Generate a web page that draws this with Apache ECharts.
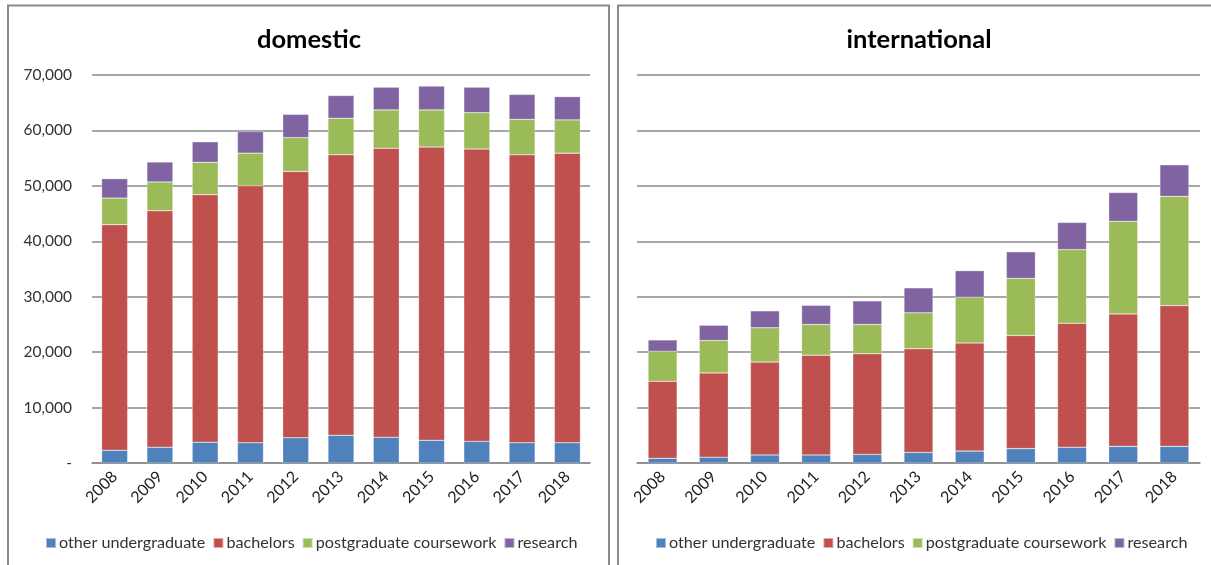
<!DOCTYPE html>
<html>
<head>
<meta charset="utf-8">
<script src="https://cdn.jsdelivr.net/npm/echarts@6/dist/echarts.min.js"></script>
<style>
  html, body { margin: 0; padding: 0; background: #fff; }
  #chart { width: 1211px; height: 565px; }
</style>
</head>
<body>
<div id="chart"></div>
<script>
// data
const years = ['2008', '2009', '2010', '2011', '2012', '2013', '2014', '2015', '2016', '2017', '2018'];
const seriesNames = ['other undergraduate', 'bachelors', 'postgraduate coursework', 'research'];

const domOther = [2300, 2850, 3750, 3650, 4550, 5000, 4650, 4100, 3900, 3650, 3650];
const domBachelors = [40700, 42650, 44650, 46350, 48050, 50600, 52150, 52900, 52750, 51950, 52250];
const domPostgrad = [4800, 5200, 5850, 5900, 6100, 6600, 6900, 6700, 6550, 6400, 6000];
const domResearch = [3500, 3600, 3700, 3900, 4200, 4100, 4100, 4300, 4600, 4500, 4200];

const intOther = [850, 1050, 1450, 1450, 1550, 1900, 2150, 2600, 2850, 3000, 3000];
const intBachelors = [13900, 15200, 16750, 18000, 18150, 18700, 19500, 20400, 22350, 23900, 25400];
const intPostgrad = [5400, 5850, 6200, 5550, 5300, 6500, 8250, 10300, 13300, 16700, 19700];
const intResearch = [2050, 2750, 3050, 3450, 4250, 4500, 4800, 4800, 4900, 5200, 5700];

const colors = ['#4F81BD', '#C0504D', '#9BBB59', '#8064A2'];
const font = 'Lato, "Open Sans", sans-serif';
const gridColor = '#8a8a8a';

const chart = echarts.init(document.getElementById('chart'));

function xAxis(idx) {
  return {
    type: 'category',
    gridIndex: idx,
    data: years,
    axisLine: { lineStyle: { color: gridColor, width: 1.5 } },
    axisTick: { show: false },
    axisLabel: { rotate: 45, color: '#222', fontSize: 16, fontFamily: font, margin: 11 }
  };
}

function yAxis(idx, showLabels) {
  return {
    type: 'value',
    gridIndex: idx,
    min: 0,
    max: 70000,
    interval: 10000,
    axisLine: { show: false },
    axisTick: { show: false },
    splitLine: { lineStyle: { color: gridColor, width: 1.5 } },
    axisLabel: {
      show: showLabels,
      color: '#333',
      fontSize: 15.5,
      fontFamily: font,
      margin: 20,
      formatter: v => v === 0 ? '-' : v.toLocaleString('en-US')
    }
  };
}

function bars(idx, data, width) {
  return data.map((d, i) => ({
    name: seriesNames[i],
    type: 'bar',
    stack: 's' + idx,
    xAxisIndex: idx,
    yAxisIndex: idx,
    barWidth: width,
    data: d,
    itemStyle: { color: colors[i], borderColor: 'rgba(255,255,255,0.5)', borderWidth: 0.5 },
    animation: false
  }));
}

const legendCommon = {
  data: seriesNames,
  top: 535,
  padding: 0,
  itemWidth: 10,
  itemHeight: 10,
  itemGap: 7,
  icon: 'rect',
  textStyle: { fontSize: 16.2, color: '#333', fontFamily: font, padding: [0, 0, 0, -2] }
};

const option = {
  color: colors,
  title: [
    { text: 'domestic', left: 304, top: 22, textAlign: 'center',
      textStyle: { fontSize: 25.5, fontWeight: 'bold', color: '#000', fontFamily: font } },
    { text: 'international', left: 914, top: 22, textAlign: 'center',
      textStyle: { fontSize: 25.5, fontWeight: 'bold', color: '#000', fontFamily: font } }
  ],
  legend: [
    Object.assign({ left: 45 }, legendCommon),
    Object.assign({ left: 655 }, legendCommon)
  ],
  grid: [
    { left: 92, width: 498, top: 75, height: 388 },
    { left: 637, width: 563, top: 75, height: 388 }
  ],
  xAxis: [xAxis(0), xAxis(1)],
  yAxis: [yAxis(0, true), yAxis(1, false)],
  series: bars(0, [domOther, domBachelors, domPostgrad, domResearch], 26)
    .concat(bars(1, [intOther, intBachelors, intPostgrad, intResearch], 29)),
  // panel frames
  graphic: [
    { type: 'rect', shape: { x: 8, y: 5.5, width: 601, height: 600 },
      style: { fill: 'none', stroke: '#8a8a8a', lineWidth: 2 }, silent: true },
    { type: 'rect', shape: { x: 618, y: 5.5, width: 600, height: 600 },
      style: { fill: 'none', stroke: '#8a8a8a', lineWidth: 2 }, silent: true }
  ]
};

chart.setOption(option);
</script>
</body>
</html>
